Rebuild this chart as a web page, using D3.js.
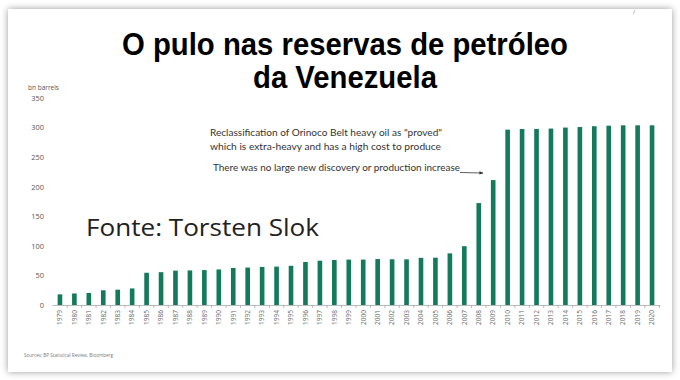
<!DOCTYPE html>
<html>
<head>
<meta charset="utf-8">
<script src="https://cdn.jsdelivr.net/npm/d3@7"></script>
<style>
html,body{margin:0;padding:0;background:#ffffff;}
svg{display:block;}
</style>
</head>
<body>
<svg id="chart" width="680" height="380"></svg>
<script>
const years = ["1979","1980","1981","1982","1983","1984","1985","1986","1987","1988","1989","1990","1991","1992","1993","1994","1995","1996","1997","1998","1999","2000","2001","2002","2003","2004","2005","2006","2007","2008","2009","2010","2011","2012","2013","2014","2015","2016","2017","2018","2019","2020"];
const reserves = [18.0,19.5,20.3,24.9,25.9,28.0,54.5,55.5,58.1,58.5,59.0,60.1,62.6,63.3,64.4,64.9,66.3,72.7,74.9,76.1,76.8,76.8,77.7,77.3,77.2,79.7,80.0,87.3,99.4,172.3,211.2,296.5,297.6,297.7,298.3,300.0,300.9,302.3,303.2,303.8,303.8,303.8];
const yTicks = [0,50,100,150,200,250,300,350];
const titleLines = ["O pulo nas reservas de petróleo","da Venezuela"];
const unitLabel = "bn barrels";
const annotationLines = ["Reclassification of Orinoco Belt heavy oil as \"proved\"","which is extra-heavy and has a high cost to produce"];
const annotationArrowText = "There was no large new discovery or production increase";
const watermark = "Fonte: Torsten Slok";
const sourceText = "Sources: BP Statistical Review, Bloomberg";

const svg = d3.select("#chart");
const defs = svg.append("defs");
const f = defs.append("filter").attr("id","sh").attr("x","-5%").attr("y","-5%").attr("width","110%").attr("height","110%");
f.append("feDropShadow").attr("dx",0).attr("dy",0).attr("stdDeviation",3.5).attr("flood-color","#000").attr("flood-opacity",0.4);
defs.append("marker").attr("id","arr").attr("viewBox","0 0 10 10").attr("refX",9).attr("refY",5)
  .attr("markerWidth",5).attr("markerHeight",5).attr("orient","auto")
  .append("path").attr("d","M0,1 L10,5 L0,9 z").attr("fill","#333");

// card
svg.append("rect").attr("x",8).attr("y",9).attr("width",664).attr("height",363).attr("fill","#fff").attr("filter","url(#sh)");

// title
const t = svg.append("g").attr("font-family","'Liberation Sans', Arial, sans-serif").attr("font-weight","bold").attr("fill","#000").attr("text-anchor","middle");
titleLines.forEach((s,i)=>{
  t.append("text").attr("transform",`translate(345,${55+i*33}) scale(1,1.1)`).attr("font-size",29.3).text(s);
});

const x = d3.scaleBand().domain(years).range([52,660]).paddingInner(0.68).paddingOuter(0.39);
const y = d3.scaleLinear().domain([0,350]).range([305,98]);

// y axis labels
const ya = svg.append("g").attr("transform","translate(44,0)")
  .call(d3.axisLeft(y).tickValues(yTicks).tickSize(0).tickPadding(0));
ya.select(".domain").remove();
ya.selectAll("text").attr("font-family","'Open Sans', sans-serif").attr("font-size",7.4).attr("fill","#555");

svg.append("text").attr("x",28).attr("y",90).attr("font-family","'Open Sans', sans-serif").attr("font-size",6.5).attr("fill","#555").text(unitLabel);

// bars
svg.append("g").selectAll("rect").data(years).join("rect")
  .attr("x",d=>x(d)).attr("width",x.bandwidth())
  .attr("y",(d,i)=>y(reserves[i])).attr("height",(d,i)=>y(0)-y(reserves[i]))
  .attr("fill","#147a5c");

// x axis
const xa = svg.append("g").attr("transform","translate(0,305)")
  .call(d3.axisBottom(x).tickSize(0).tickPadding(0));
xa.select(".domain").attr("stroke","#aaa").attr("stroke-width",0.8);
xa.selectAll("text").attr("font-family","'Open Sans', sans-serif").attr("font-size",6.5).attr("fill","#666")
  .attr("transform","rotate(-90)").attr("text-anchor","end").attr("dy","0.35em").attr("x",-5).attr("y",0);
// boundary tick marks
const step = x.step();
svg.append("g").selectAll("line").data(years).join("line")
  .attr("x1",d=>x(d)+x.bandwidth()/2+step/2).attr("x2",d=>x(d)+x.bandwidth()/2+step/2)
  .attr("y1",305).attr("y2",308).attr("stroke","#aaa").attr("stroke-width",0.8);

// annotations
const an = svg.append("g").attr("font-family","Lato, 'Open Sans', sans-serif").attr("font-size",8.6).attr("fill","#333");
annotationLines.forEach((s,i)=>{
  an.append("text").attr("x",210).attr("y",136+i*13.5).attr("textLength",i===0?232:231).attr("lengthAdjust","spacingAndGlyphs").text(s);
});
an.append("text").attr("x",213).attr("y",171).attr("textLength",247).attr("lengthAdjust","spacingAndGlyphs").text(annotationArrowText);
svg.append("line").attr("x1",460).attr("y1",172.5).attr("x2",483).attr("y2",173)
  .attr("stroke","#333").attr("stroke-width",0.8).attr("marker-end","url(#arr)");

// watermark
svg.append("text").attr("x",86).attr("y",236).attr("font-family","'Open Sans', sans-serif").attr("font-size",23)
  .attr("fill","#222").attr("textLength",233).attr("lengthAdjust","spacingAndGlyphs").text(watermark);

// source
svg.append("text").attr("x",24).attr("y",357).attr("font-family","'Open Sans', sans-serif").attr("font-size",4.6)
  .attr("fill","#777").text(sourceText);
svg.append("text").attr("x",633).attr("y",14).attr("font-family","'Open Sans', sans-serif").attr("font-size",6)
  .attr("fill","#777").text("/");
</script>
</body>
</html>
